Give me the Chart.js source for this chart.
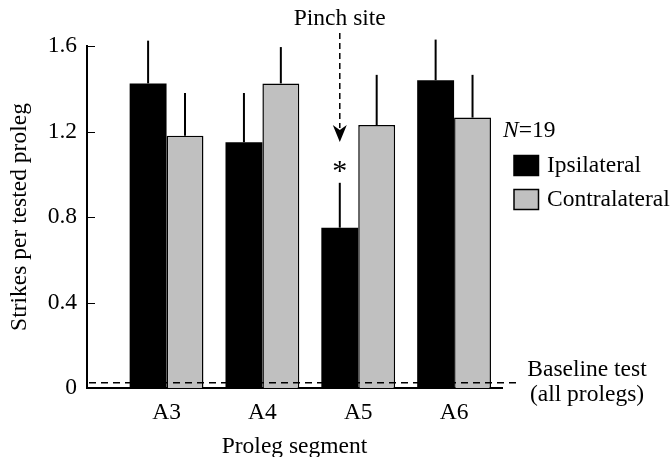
<!DOCTYPE html>
<html>
<head>
<meta charset="utf-8">
<script src="https://cdn.jsdelivr.net/npm/chart.js@4/dist/chart.umd.min.js"></script>
<style>
  html, body { margin: 0; padding: 0; background: #fff; }
  #ctx-strikes { display: block; }
</style>
</head>
<body>
<canvas id="ctx-strikes" width="671" height="457"></canvas>
<script>
// values (mean strikes, upper error only)
const segments = ['A3', 'A4', 'A5', 'A6'];
const ipsilateral = [1.425, 1.15, 0.75, 1.44];
const ipsilateralErr = [0.20, 0.23, 0.21, 0.19];
const contralateral = [1.18, 1.425, 1.23, 1.265];
const contralateralErr = [0.20, 0.17, 0.235, 0.20];
const yTicks = [0, 0.4, 0.8, 1.2, 1.6];
const baselineValue = 0.025;
const pinchSegment = 'A5';
const sampleSize = 19;

const FONT = '"Liberation Serif", "Times New Roman", serif';
const FS = 23.5;
const grey = '#c0c0c0';

const annotations = {
    id: 'annotations',
    afterDatasetsDraw(chart) {
        const ctx = chart.ctx;
        const y = chart.scales.y;
        const area = chart.chartArea;
        ctx.save();
        ctx.strokeStyle = '#000';
        ctx.fillStyle = '#000';

        // error bars, upward only
        [ipsilateralErr, contralateralErr].forEach((errs, d) => {
            const ds = chart.data.datasets[d];
            chart.getDatasetMeta(d).data.forEach((bar, i) => {
                const v = ds.data[i].y;
                ctx.lineWidth = 2;
                ctx.beginPath();
                ctx.moveTo(bar.x, y.getPixelForValue(v));
                ctx.lineTo(bar.x, y.getPixelForValue(v + errs[i]));
                ctx.stroke();
            });
        });

        // tick marks pointing into the plot
        ctx.lineWidth = 1;
        yTicks.forEach(t => {
            const py = Math.round(y.getPixelForValue(t)) + 0.5;
            ctx.beginPath();
            ctx.moveTo(area.left, py);
            ctx.lineTo(area.left + 8, py);
            ctx.stroke();
        });

        // baseline dashed line
        const by = y.getPixelForValue(baselineValue);
        ctx.lineWidth = 1.5;
        ctx.setLineDash([7, 5]);
        ctx.beginPath();
        ctx.moveTo(area.left + 2, by);
        ctx.lineTo(area.right + 16, by);
        ctx.stroke();
        ctx.setLineDash([]);

        ctx.font = FS + 'px ' + FONT;
        ctx.textBaseline = 'middle';
        ctx.textAlign = 'center';
        ctx.fillText('Baseline test', area.right + 85, 370);
        ctx.fillText('(all prolegs)', area.right + 85, 395);

        // pinch site arrow over the ipsilateral A5 bar
        const pIdx = segments.indexOf(pinchSegment);
        const pBar = chart.getDatasetMeta(0).data[pIdx];
        const px = pBar.x;
        ctx.fillText('Pinch site', px, 19);
        ctx.lineWidth = 1.5;
        ctx.setLineDash([6, 4]);
        ctx.beginPath();
        ctx.moveTo(px, 33);
        ctx.lineTo(px, 128);
        ctx.stroke();
        ctx.setLineDash([]);
        ctx.beginPath();
        ctx.moveTo(px, 142);
        ctx.lineTo(px - 7, 125);
        ctx.lineTo(px, 130);
        ctx.lineTo(px + 7, 125);
        ctx.closePath();
        ctx.fill();

        // significance star
        ctx.font = '30px ' + FONT;
        ctx.textBaseline = 'alphabetic';
        ctx.fillText('*', px, 180);

        // legend
        const lx = area.right + 1;
        ctx.textAlign = 'left';
        ctx.textBaseline = 'middle';
        ctx.font = 'italic ' + FS + 'px ' + FONT;
        ctx.fillText('N', lx, 131);
        const nw = ctx.measureText('N').width;
        ctx.font = FS + 'px ' + FONT;
        ctx.fillText('=' + sampleSize, lx + nw, 131);

        const items = chart.data.datasets;
        const rows = [165.5, 199.5];
        items.forEach((ds, i) => {
            const ry = rows[i];
            ctx.fillStyle = ds.backgroundColor;
            ctx.fillRect(lx + 11, ry - 10, 24.5, 20);
            ctx.lineWidth = 1.5;
            ctx.strokeStyle = '#000';
            ctx.strokeRect(lx + 11, ry - 10, 24.5, 20);
            ctx.fillStyle = '#000';
            ctx.fillText(ds.label, lx + 44, ry);
        });

        ctx.restore();
    }
};

const ctx = document.getElementById('ctx-strikes');

const chart = new Chart(ctx, {
    type: 'bar',
    data: {
        datasets: [
            {
                label: 'Ipsilateral',
                data: segments.map((s, i) => ({ x: i + 1, y: ipsilateral[i] })),
                backgroundColor: '#000',
                borderColor: '#000',
                borderWidth: 0
            },
            {
                label: 'Contralateral',
                data: segments.map((s, i) => ({ x: i + 1, y: contralateral[i] })),
                backgroundColor: grey,
                borderColor: '#000',
                borderWidth: 1.5
            }
        ]
    },
    options: {
        responsive: false,
        animation: false,
        devicePixelRatio: 1,
        layout: { padding: { top: 46, right: 169, left: 0, bottom: 0 } },
        categoryPercentage: 0.77,
        barPercentage: 1,
        plugins: {
            legend: { display: false },
            tooltip: { enabled: false }
        },
        scales: {
            x: {
                type: 'linear',
                offset: false,
                min: 0.17,
                max: 4.5,
                grid: { display: false, drawTicks: false, offset: false },
                border: { color: '#000', width: 2 },
                afterBuildTicks: (s) => { s.ticks = segments.map((_, i) => ({ value: i + 1 })); },
                afterFit: (s) => { s.height = 69; },
                ticks: {
                    autoSkip: false,
                    maxRotation: 0,
                    padding: 11,
                    color: '#000',
                    font: { family: FONT, size: FS },
                    callback: (v) => segments[v - 1] || ''
                },
                title: {
                    display: true,
                    text: 'Proleg segment',
                    color: '#000',
                    font: { family: FONT, size: FS },
                    padding: { top: 0, bottom: -4 }
                }
            },
            y: {
                min: 0,
                max: 1.6,
                grid: { display: false, drawTicks: false },
                border: { color: '#000', width: 2 },
                afterBuildTicks: (s) => { s.ticks = yTicks.map(v => ({ value: v })); },
                afterFit: (s) => { s.width = 87; },
                ticks: {
                    padding: 10,
                    color: '#000',
                    font: { family: FONT, size: FS },
                    callback: (v) => v === 0 ? '0' : v.toFixed(1)
                },
                title: {
                    display: true,
                    text: 'Strikes per tested proleg',
                    color: '#000',
                    font: { family: FONT, size: FS },
                    padding: { top: 6, bottom: 0 }
                }
            }
        }
    },
    plugins: [annotations]
});
</script>
</body>
</html>
